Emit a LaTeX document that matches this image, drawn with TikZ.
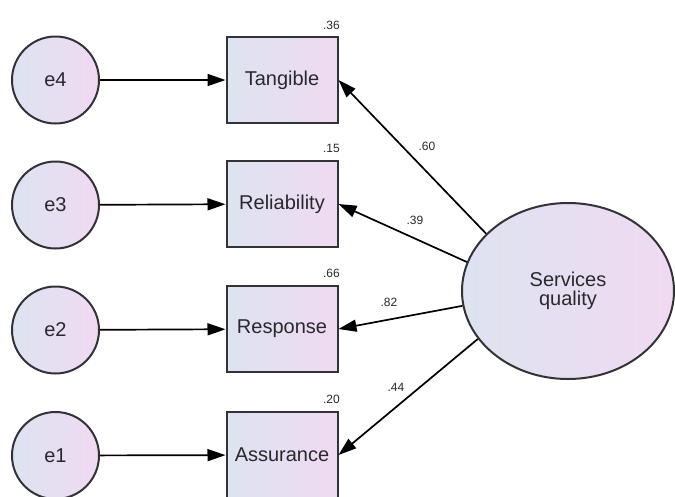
\documentclass[tikz,border=0pt]{standalone}
\usepackage{fontspec}
\setmainfont{Liberation Sans}
\usetikzlibrary{arrows.meta,shapes.geometric}
\definecolor{fillL}{RGB}{221,227,240}
\definecolor{fillR}{RGB}{240,218,242}
\definecolor{edgeC}{RGB}{50,50,55}
\definecolor{txtC}{RGB}{40,40,45}
\tikzset{
  latent/.style={circle, draw=edgeC, line width=2pt, minimum size=87pt, inner sep=0pt,
    left color=fillL, right color=fillR, text=txtC, font=\fontsize{20}{22}\selectfont},
  observed/.style={rectangle, draw=edgeC, line width=2pt, minimum width=111pt, minimum height=86pt,
    inner sep=0pt, left color=fillL, right color=fillR, text=txtC, font=\fontsize{20}{22}\selectfont},
  factor/.style={ellipse, draw=edgeC, line width=2pt, minimum width=212pt, minimum height=176pt,
    inner sep=0pt, left color=fillL, right color=fillR, text=txtC, align=center,
    font=\fontsize{20}{19}\selectfont},
  conn/.style={draw=black, line width=1.7pt, -{Triangle[length=18pt,width=12pt]}},
  numlab/.style={font=\fontsize{12}{13}\selectfont, text=txtC, inner sep=0pt},
}
\begin{document}
\begin{tikzpicture}[x=1pt,y=-1pt]
\useasboundingbox (0,0) rectangle (675,496);
\clip (0,0) rectangle (675,496);
\node[latent] (e4) at (55.5,80) {e4};
\node[latent] (e3) at (55.5,205) {e3};
\node[latent] (e2) at (55.5,330) {e2};
\node[latent] (e1) at (55.5,455.5) {e1};
\node[observed] (tan) at (282,80) {Tangible};
\node[observed] (rel) at (282,204) {Reliability};
\node[observed] (res) at (282,329) {Response};
\node[observed] (ass) at (282,455) {Assurance};
\node[factor] (sq) at (568,291) {Services\\quality};
\draw[conn] (e4) -- (tan);
\draw[conn] (e3) -- (rel);
\draw[conn] (e2) -- (res);
\draw[conn] (e1) -- (ass);
\draw[conn] (sq.145.8) -- (tan.east);
\draw[conn] (sq.164.7) -- (rel.east);
\draw[conn] (sq.188.5) -- (res.east);
\draw[conn] (sq.208.6) -- (ass.east);
\node[numlab, anchor=east] (r4) at (340,25) {.36};
\node[numlab, anchor=east] (r3) at (340,148) {.15};
\node[numlab, anchor=east] (r2) at (340,273) {.66};
\node[numlab, anchor=east] (r1) at (340,399) {.20};
\node[numlab] (l4) at (427,146) {.60};
\node[numlab] (l3) at (415,220) {.39};
\node[numlab] (l2) at (389,302) {.82};
\node[numlab] (l1) at (396,387) {.44};
\end{tikzpicture}
\end{document}
